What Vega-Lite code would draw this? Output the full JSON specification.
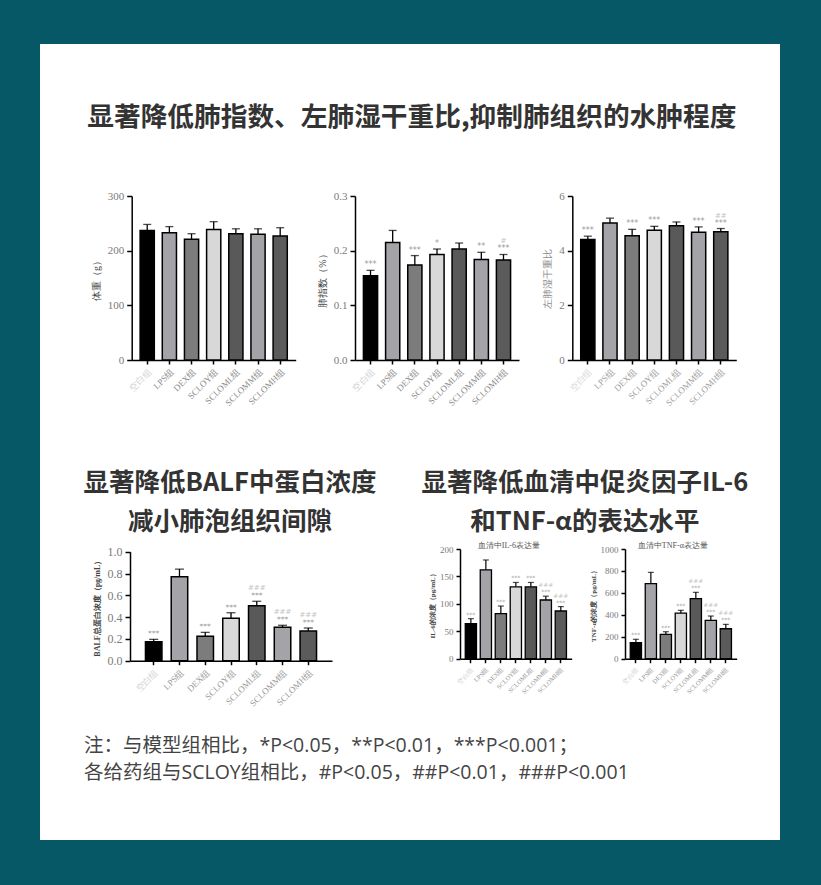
{
  "$schema": "https://vega.github.io/schema/vega-lite/v6.json",
  "width": 740,
  "height": 796,
  "autosize": {"type": "none"},
  "padding": {"left": 40, "top": 44, "right": 41, "bottom": 45},
  "background": "#075866",
  "config": {
    "view": {"fill": "#ffffff", "stroke": null},
    "axis": {
      "domainColor": "#000000",
      "domainWidth": 1.5,
      "tickColor": "#000000",
      "tickWidth": 1.5,
      "grid": false,
      "labelFont": "Liberation Serif",
      "titleFont": "Liberation Serif",
      "labelColor": "#7a7a7a",
      "titleColor": "#555555",
      "titleFontWeight": "normal"
    },
    "axisY": {"tickSize": 5, "labelFontSize": 11, "titleFontSize": 10, "titlePadding": 6, "labelPadding": 3},
    "axisX": {"tickSize": 4, "labelAngle": -45, "labelFontSize": 9, "labelPadding": 3}
  },
  "datasets": {
    "bars": [
      {"chart": "bw", "group": "空白组", "value": 237, "err": 248, "sig": "", "hash": ""},
      {"chart": "bw", "group": "LPS组", "value": 233, "err": 244, "sig": "", "hash": ""},
      {"chart": "bw", "group": "DEX组", "value": 221, "err": 231, "sig": "", "hash": ""},
      {"chart": "bw", "group": "SCLOY组", "value": 238.5, "err": 253, "sig": "", "hash": ""},
      {"chart": "bw", "group": "SCLOML组", "value": 231, "err": 240, "sig": "", "hash": ""},
      {"chart": "bw", "group": "SCLOMM组", "value": 230, "err": 240, "sig": "", "hash": ""},
      {"chart": "bw", "group": "SCLOMH组", "value": 227, "err": 242, "sig": "", "hash": ""},
      {"chart": "li", "group": "空白组", "value": 0.154, "err": 0.164, "sig": "***", "hash": ""},
      {"chart": "li", "group": "LPS组", "value": 0.215, "err": 0.237, "sig": "", "hash": ""},
      {"chart": "li", "group": "DEX组", "value": 0.174, "err": 0.191, "sig": "***", "hash": ""},
      {"chart": "li", "group": "SCLOY组", "value": 0.193, "err": 0.203, "sig": "*", "hash": ""},
      {"chart": "li", "group": "SCLOML组", "value": 0.203, "err": 0.214, "sig": "", "hash": ""},
      {"chart": "li", "group": "SCLOMM组", "value": 0.184, "err": 0.197, "sig": "**", "hash": ""},
      {"chart": "li", "group": "SCLOMH组", "value": 0.183, "err": 0.193, "sig": "***", "hash": "#"},
      {"chart": "wd", "group": "空白组", "value": 4.41, "err": 4.53, "sig": "***", "hash": ""},
      {"chart": "wd", "group": "LPS组", "value": 5.01, "err": 5.19, "sig": "", "hash": ""},
      {"chart": "wd", "group": "DEX组", "value": 4.55, "err": 4.78, "sig": "***", "hash": ""},
      {"chart": "wd", "group": "SCLOY组", "value": 4.75, "err": 4.89, "sig": "***", "hash": ""},
      {"chart": "wd", "group": "SCLOML组", "value": 4.91, "err": 5.05, "sig": "", "hash": ""},
      {"chart": "wd", "group": "SCLOMM组", "value": 4.67, "err": 4.87, "sig": "***", "hash": ""},
      {"chart": "wd", "group": "SCLOMH组", "value": 4.69, "err": 4.81, "sig": "***", "hash": "##"},
      {"chart": "balf", "group": "空白组", "value": 0.175, "err": 0.196, "sig": "***", "hash": ""},
      {"chart": "balf", "group": "LPS组", "value": 0.77, "err": 0.84, "sig": "", "hash": ""},
      {"chart": "balf", "group": "DEX组", "value": 0.224, "err": 0.26, "sig": "***", "hash": ""},
      {"chart": "balf", "group": "SCLOY组", "value": 0.389, "err": 0.44, "sig": "***", "hash": ""},
      {"chart": "balf", "group": "SCLOML组", "value": 0.505, "err": 0.545, "sig": "***", "hash": "###"},
      {"chart": "balf", "group": "SCLOMM组", "value": 0.306, "err": 0.325, "sig": "***", "hash": "###"},
      {"chart": "balf", "group": "SCLOMH组", "value": 0.272, "err": 0.3, "sig": "***", "hash": "###"},
      {"chart": "il6", "group": "空白组", "value": 64, "err": 73, "sig": "***", "hash": ""},
      {"chart": "il6", "group": "LPS组", "value": 162, "err": 180, "sig": "", "hash": ""},
      {"chart": "il6", "group": "DEX组", "value": 82, "err": 96, "sig": "***", "hash": ""},
      {"chart": "il6", "group": "SCLOY组", "value": 131, "err": 139, "sig": "***", "hash": ""},
      {"chart": "il6", "group": "SCLOML组", "value": 131, "err": 139, "sig": "***", "hash": ""},
      {"chart": "il6", "group": "SCLOMM组", "value": 107, "err": 114, "sig": "***", "hash": "###"},
      {"chart": "il6", "group": "SCLOMH组", "value": 87, "err": 95, "sig": "***", "hash": "###"},
      {"chart": "tnf", "group": "空白组", "value": 146, "err": 177, "sig": "***", "hash": ""},
      {"chart": "tnf", "group": "LPS组", "value": 684, "err": 787, "sig": "", "hash": ""},
      {"chart": "tnf", "group": "DEX组", "value": 222, "err": 246, "sig": "***", "hash": ""},
      {"chart": "tnf", "group": "SCLOY组", "value": 416, "err": 441, "sig": "***", "hash": ""},
      {"chart": "tnf", "group": "SCLOML组", "value": 547, "err": 605, "sig": "***", "hash": "###"},
      {"chart": "tnf", "group": "SCLOMM组", "value": 350, "err": 389, "sig": "***", "hash": "###"},
      {"chart": "tnf", "group": "SCLOMH组", "value": 273, "err": 313, "sig": "***", "hash": "###"}
    ]
  },
  "layer": [
    {
      "data": {"name": "bars"},
      "transform": [{"filter": "datum.chart == 'bw'"}],
      "layer": [
        {"mark": {"type": "rule", "color": "#000000", "strokeWidth": 1.3},
         "encoding": {"x": {"field": "group", "type": "nominal"}, "y": {"field": "value", "type": "quantitative"}, "y2": {"field": "err"}}},
        {"mark": {"type": "tick", "color": "#000000", "thickness": 1.3, "size": 8},
         "encoding": {"x": {"field": "group", "type": "nominal"}, "y": {"field": "err", "type": "quantitative"}}},
        {"mark": {"type": "bar", "stroke": "#000000", "strokeWidth": 1.5},
         "encoding": {
           "x": {"field": "group", "type": "nominal", "sort": null, "title": null,
                 "scale": {"domain": ["空白组", "LPS组", "DEX组", "SCLOY组", "SCLOML组", "SCLOMM组", "SCLOMH组"], "range": [91.7, 255.7], "paddingInner": 0.36, "paddingOuter": 0.38},
                 "axis": {"orient": "bottom", "offset": -480, "labelColor": {"expr": "datum.label == '空白组' ? '#d2d2d2' : '#8a8a8a'"}}},
           "y": {"field": "value", "type": "quantitative",
                 "scale": {"domain": [0, 300], "range": [316, 152], "nice": false},
                 "axis": {"orient": "left", "offset": -91.7, "values": [0, 100, 200, 300], "title": "体重（g）", "titleColor": "#444444"}},
           "color": {"field": "group", "type": "nominal", "legend": null,
                     "scale": {"domain": ["空白组", "LPS组", "DEX组", "SCLOY组", "SCLOML组", "SCLOMM组", "SCLOMH组"], "range": ["#000000", "#a4a4a8", "#7c7c7c", "#d8d8d8", "#595959", "#a4a4a8", "#5b5b5b"]}}
         }}
      ]
    },
    {
      "data": {"name": "bars"},
      "transform": [{"filter": "datum.chart == 'li'"}],
      "layer": [
        {"mark": {"type": "rule", "color": "#000000", "strokeWidth": 1.3},
         "encoding": {"x": {"field": "group", "type": "nominal"}, "y": {"field": "value", "type": "quantitative"}, "y2": {"field": "err"}}},
        {"mark": {"type": "tick", "color": "#000000", "thickness": 1.3, "size": 8},
         "encoding": {"x": {"field": "group", "type": "nominal"}, "y": {"field": "err", "type": "quantitative"}}},
        {"mark": {"type": "bar", "stroke": "#000000", "strokeWidth": 1.5},
         "encoding": {
           "x": {"field": "group", "type": "nominal", "sort": null, "title": null,
                 "scale": {"domain": ["空白组", "LPS组", "DEX组", "SCLOY组", "SCLOML组", "SCLOMM组", "SCLOMH组"], "range": [315, 479], "paddingInner": 0.36, "paddingOuter": 0.38},
                 "axis": {"orient": "bottom", "offset": -480, "labelColor": {"expr": "datum.label == '空白组' ? '#d2d2d2' : '#8a8a8a'"}}},
           "y": {"field": "value", "type": "quantitative",
                 "scale": {"domain": [0, 0.3], "range": [316, 152], "nice": false},
                 "axis": {"orient": "left", "offset": -315, "values": [0, 0.1, 0.2, 0.3], "format": ".1f", "title": "肺指数（%）", "titleColor": "#444444"}},
           "color": {"field": "group", "type": "nominal", "legend": null}
         }},
        {"mark": {"type": "text", "fontSize": 8, "color": "#9a9a9a", "baseline": "bottom", "dy": -1, "font": "DejaVu Sans"},
         "encoding": {"x": {"field": "group", "type": "nominal"}, "y": {"field": "err", "type": "quantitative"}, "text": {"field": "sig"}}},
        {"mark": {"type": "text", "fontSize": 7, "color": "#c4c4c4", "baseline": "bottom", "dy": -10, "font": "DejaVu Sans"},
         "encoding": {"x": {"field": "group", "type": "nominal"}, "y": {"field": "err", "type": "quantitative"}, "text": {"field": "hash"}}},
        {"data": {"values": [{}]},
         "mark": {"type": "text", "font": "Noto Sans CJK SC", "fontWeight": "bold", "fontSize": 26.7, "color": "#333333", "align": "center", "baseline": "middle", "dx": -3},
         "encoding": {"x": {"datum": "DEX组"}, "y": {"datum": 0.4427}, "text": {"value": "显著降低肺指数、左肺湿干重比,抑制肺组织的水肿程度"}}}
      ]
    },
    {
      "data": {"name": "bars"},
      "transform": [{"filter": "datum.chart == 'wd'"}],
      "layer": [
        {"mark": {"type": "rule", "color": "#000000", "strokeWidth": 1.3},
         "encoding": {"x": {"field": "group", "type": "nominal"}, "y": {"field": "value", "type": "quantitative"}, "y2": {"field": "err"}}},
        {"mark": {"type": "tick", "color": "#000000", "thickness": 1.3, "size": 8},
         "encoding": {"x": {"field": "group", "type": "nominal"}, "y": {"field": "err", "type": "quantitative"}}},
        {"mark": {"type": "bar", "stroke": "#000000", "strokeWidth": 1.5},
         "encoding": {
           "x": {"field": "group", "type": "nominal", "sort": null, "title": null,
                 "scale": {"domain": ["空白组", "LPS组", "DEX组", "SCLOY组", "SCLOML组", "SCLOMM组", "SCLOMH组"], "range": [532.3, 696.3], "paddingInner": 0.36, "paddingOuter": 0.38},
                 "axis": {"orient": "bottom", "offset": -480, "labelColor": {"expr": "datum.label == '空白组' ? '#d8d8d8' : '#a0a0a0'"}}},
           "y": {"field": "value", "type": "quantitative",
                 "scale": {"domain": [0, 6], "range": [316, 152], "nice": false},
                 "axis": {"orient": "left", "offset": -532.3, "values": [0, 2, 4, 6], "format": "d", "title": "左肺湿干重比", "titleColor": "#8a8a8a"}},
           "color": {"field": "group", "type": "nominal", "legend": null}
         }},
        {"mark": {"type": "text", "fontSize": 8, "color": "#9a9a9a", "baseline": "bottom", "dy": -1, "font": "DejaVu Sans"},
         "encoding": {"x": {"field": "group", "type": "nominal"}, "y": {"field": "err", "type": "quantitative"}, "text": {"field": "sig"}}},
        {"mark": {"type": "text", "fontSize": 7, "color": "#c4c4c4", "baseline": "bottom", "dy": -10, "font": "DejaVu Sans"},
         "encoding": {"x": {"field": "group", "type": "nominal"}, "y": {"field": "err", "type": "quantitative"}, "text": {"field": "hash"}}}
      ]
    },
    {
      "data": {"name": "bars"},
      "transform": [{"filter": "datum.chart == 'balf'"}],
      "layer": [
        {"mark": {"type": "rule", "color": "#000000", "strokeWidth": 1.3},
         "encoding": {"x": {"field": "group", "type": "nominal"}, "y": {"field": "value", "type": "quantitative"}, "y2": {"field": "err"}}},
        {"mark": {"type": "tick", "color": "#000000", "thickness": 1.3, "size": 9},
         "encoding": {"x": {"field": "group", "type": "nominal"}, "y": {"field": "err", "type": "quantitative"}}},
        {"mark": {"type": "bar", "stroke": "#000000", "strokeWidth": 1.5},
         "encoding": {
           "x": {"field": "group", "type": "nominal", "sort": null, "title": null,
                 "scale": {"domain": ["空白组", "LPS组", "DEX组", "SCLOY组", "SCLOML组", "SCLOMM组", "SCLOMH组"], "range": [90, 292], "paddingInner": 0.36, "paddingOuter": 0.6},
                 "axis": {"orient": "bottom", "offset": -179.3, "labelColor": {"expr": "datum.label == '空白组' ? '#d2d2d2' : '#9a9a9a'"}}},
           "y": {"field": "value", "type": "quantitative",
                 "scale": {"domain": [0, 1], "range": [616.7, 507.7], "nice": false},
                 "axis": {"orient": "left", "offset": -90, "values": [0, 0.2, 0.4, 0.6, 0.8, 1], "format": ".1f", "labelFontSize": 12, "title": "BALF总蛋白浓度（pg/mL）", "titleFontSize": 8, "titleFontWeight": "bold", "titleColor": "#444444"}},
           "color": {"field": "group", "type": "nominal", "legend": null}
         }},
        {"mark": {"type": "text", "fontSize": 7.5, "color": "#9a9a9a", "baseline": "bottom", "dy": -1, "font": "DejaVu Sans"},
         "encoding": {"x": {"field": "group", "type": "nominal"}, "y": {"field": "err", "type": "quantitative"}, "text": {"field": "sig"}}},
        {"mark": {"type": "text", "fontSize": 7, "color": "#c4c4c4", "baseline": "bottom", "dy": -10, "font": "DejaVu Sans"},
         "encoding": {"x": {"field": "group", "type": "nominal"}, "y": {"field": "err", "type": "quantitative"}, "text": {"field": "hash"}}},
        {"data": {"values": [{}]},
         "mark": {"type": "text", "font": "Noto Sans CJK SC", "fontWeight": "bold", "fontSize": 25.5, "color": "#333333", "align": "center", "baseline": "middle", "lineHeight": 38.7, "dx": -1},
         "encoding": {"x": {"datum": "SCLOY组"}, "y": {"datum": 1.63}, "text": {"value": ["显著降低BALF中蛋白浓度", "减小肺泡组织间隙"]}}},
        {"data": {"values": [{}]},
         "mark": {"type": "text", "font": "Open Sans, Noto Sans CJK SC", "fontSize": 19.5, "color": "#444444", "align": "left", "baseline": "middle", "lineHeight": 27, "dx": -69.7},
         "encoding": {"x": {"datum": "空白组"}, "y": {"datum": -0.7826}, "text": {"value": ["注：与模型组相比，*P<0.05，**P<0.01，***P<0.001；", "各给药组与SCLOY组相比，#P<0.05，##P<0.01，###P<0.001"]}}}
      ]
    },
    {
      "data": {"name": "bars"},
      "transform": [{"filter": "datum.chart == 'il6'"}],
      "layer": [
        {"mark": {"type": "rule", "color": "#000000", "strokeWidth": 1.2},
         "encoding": {"x": {"field": "group", "type": "nominal"}, "y": {"field": "value", "type": "quantitative"}, "y2": {"field": "err"}}},
        {"mark": {"type": "tick", "color": "#000000", "thickness": 1.2, "size": 6},
         "encoding": {"x": {"field": "group", "type": "nominal"}, "y": {"field": "err", "type": "quantitative"}}},
        {"mark": {"type": "bar", "stroke": "#000000", "strokeWidth": 1.3},
         "encoding": {
           "x": {"field": "group", "type": "nominal", "sort": null, "title": null,
                 "scale": {"domain": ["空白组", "LPS组", "DEX组", "SCLOY组", "SCLOML组", "SCLOMM组", "SCLOMH组"], "range": [420, 531.7], "paddingInner": 0.25, "paddingOuter": 0.35},
                 "axis": {"orient": "bottom", "offset": -181.3, "labelFontSize": 6.5, "labelColor": {"expr": "datum.label == '空白组' ? '#d2d2d2' : '#9a9a9a'"}}},
           "y": {"field": "value", "type": "quantitative",
                 "scale": {"domain": [0, 200], "range": [614.7, 505], "nice": false},
                 "axis": {"orient": "left", "offset": -420, "values": [0, 50, 100, 150, 200], "labelFontSize": 9, "tickSize": 4, "title": "IL-6的浓度（pg/mL）", "titleFontSize": 7, "titleFontWeight": "bold", "titleColor": "#444444", "titlePadding": 4}},
           "color": {"field": "group", "type": "nominal", "legend": null}
         }},
        {"mark": {"type": "text", "fontSize": 6, "color": "#9a9a9a", "baseline": "bottom", "dy": -1, "font": "DejaVu Sans"},
         "encoding": {"x": {"field": "group", "type": "nominal"}, "y": {"field": "err", "type": "quantitative"}, "text": {"field": "sig"}}},
        {"mark": {"type": "text", "fontSize": 6, "color": "#c4c4c4", "baseline": "bottom", "dy": -8, "font": "DejaVu Sans"},
         "encoding": {"x": {"field": "group", "type": "nominal"}, "y": {"field": "err", "type": "quantitative"}, "text": {"field": "hash"}}},
        {"data": {"values": [{}]},
         "mark": {"type": "text", "font": "Liberation Serif", "fontSize": 8, "color": "#555555", "align": "center", "baseline": "middle", "dx": -7},
         "encoding": {"x": {"datum": "SCLOY组"}, "y": {"datum": 205.5}, "text": {"value": "血清中IL-6表达量"}}},
        {"data": {"values": [{}]},
         "mark": {"type": "text", "font": "Noto Sans CJK SC", "fontWeight": "bold", "fontSize": 25.5, "color": "#333333", "align": "center", "baseline": "middle", "lineHeight": 38.7, "dx": 24},
         "encoding": {"x": {"datum": "SCLOMH组"}, "y": {"datum": 320.3}, "text": {"value": ["显著降低血清中促炎因子IL-6", "和TNF-α的表达水平"]}}}
      ]
    },
    {
      "data": {"name": "bars"},
      "transform": [{"filter": "datum.chart == 'tnf'"}],
      "layer": [
        {"mark": {"type": "rule", "color": "#000000", "strokeWidth": 1.2},
         "encoding": {"x": {"field": "group", "type": "nominal"}, "y": {"field": "value", "type": "quantitative"}, "y2": {"field": "err"}}},
        {"mark": {"type": "tick", "color": "#000000", "thickness": 1.2, "size": 6},
         "encoding": {"x": {"field": "group", "type": "nominal"}, "y": {"field": "err", "type": "quantitative"}}},
        {"mark": {"type": "bar", "stroke": "#000000", "strokeWidth": 1.3},
         "encoding": {
           "x": {"field": "group", "type": "nominal", "sort": null, "title": null,
                 "scale": {"domain": ["空白组", "LPS组", "DEX组", "SCLOY组", "SCLOML组", "SCLOMM组", "SCLOMH组"], "range": [585, 696.7], "paddingInner": 0.25, "paddingOuter": 0.35},
                 "axis": {"orient": "bottom", "offset": -181.3, "labelFontSize": 6.5, "labelColor": {"expr": "datum.label == '空白组' ? '#d2d2d2' : '#9a9a9a'"}}},
           "y": {"field": "value", "type": "quantitative",
                 "scale": {"domain": [0, 1000], "range": [614.7, 505], "nice": false},
                 "axis": {"orient": "left", "offset": -585, "values": [0, 200, 400, 600, 800, 1000], "format": "d", "labelFontSize": 9, "tickSize": 4, "title": "TNF-α的浓度（pg/mL）", "titleFontSize": 7, "titleFontWeight": "bold", "titleColor": "#444444", "titlePadding": 4}},
           "color": {"field": "group", "type": "nominal", "legend": null}
         }},
        {"mark": {"type": "text", "fontSize": 6, "color": "#9a9a9a", "baseline": "bottom", "dy": -1, "font": "DejaVu Sans"},
         "encoding": {"x": {"field": "group", "type": "nominal"}, "y": {"field": "err", "type": "quantitative"}, "text": {"field": "sig"}}},
        {"mark": {"type": "text", "fontSize": 6, "color": "#c4c4c4", "baseline": "bottom", "dy": -8, "font": "DejaVu Sans"},
         "encoding": {"x": {"field": "group", "type": "nominal"}, "y": {"field": "err", "type": "quantitative"}, "text": {"field": "hash"}}},
        {"data": {"values": [{}]},
         "mark": {"type": "text", "font": "Liberation Serif", "fontSize": 8, "color": "#555555", "align": "center", "baseline": "middle", "dx": -8},
         "encoding": {"x": {"datum": "SCLOY组"}, "y": {"datum": 1027}, "text": {"value": "血清中TNF-α表达量"}}}
      ]
    }
  ],
  "resolve": {"scale": {"x": "independent", "y": "independent"}, "axis": {"x": "independent", "y": "independent"}}
}
